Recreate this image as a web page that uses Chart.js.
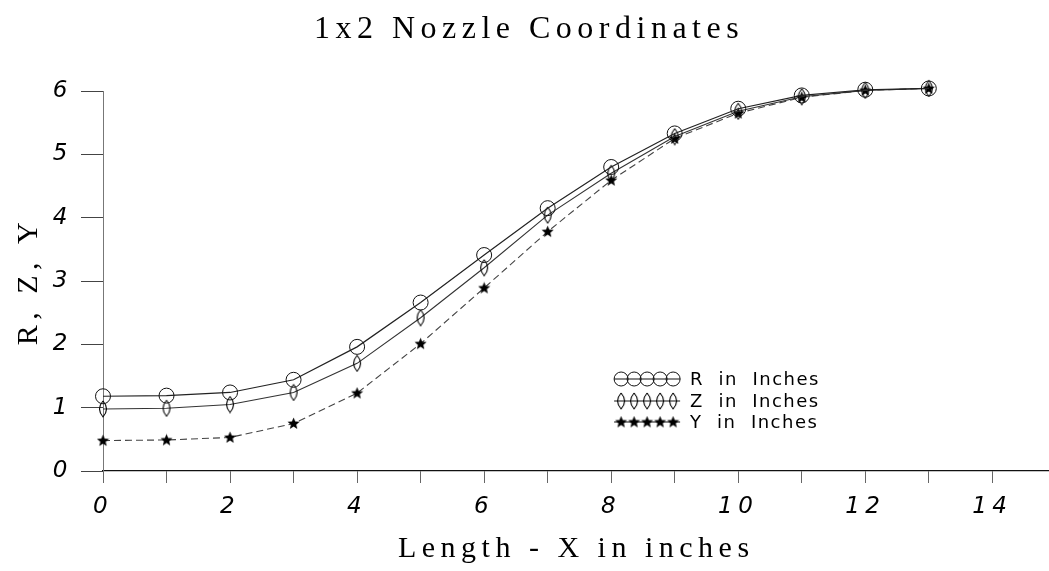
<!DOCTYPE html>
<html>
<head>
<meta charset="utf-8">
<script src="https://cdn.jsdelivr.net/npm/chart.js@4"></script>
<style>
  html, body { margin: 0; padding: 0; background: #fff; overflow: hidden; }
  /* canvas is a little wider than the frame so the x axis runs off the right edge */
  #wrap { width: 1049px; height: 571px; overflow: hidden; }
</style>
</head>
<body>
<div id="wrap"><canvas id="chart" width="1058" height="571"></canvas></div>
<script>
// nozzle profile, station x in inches
let lengthX = [0, 1, 2, 3, 4, 5, 6, 7, 8, 9, 10, 11, 12, 13]
let rInches = [1.18, 1.19, 1.24, 1.44, 1.96, 2.66, 3.41, 4.15, 4.80, 5.33, 5.72, 5.93, 6.02, 6.04]
let zInches = [0.98, 0.99, 1.05, 1.24, 1.70, 2.42, 3.21, 4.04, 4.70, 5.28, 5.68, 5.91, 6.01, 6.04]
let yInches = [0.48, 0.49, 0.53, 0.75, 1.23, 2.01, 2.89, 3.78, 4.59, 5.25, 5.65, 5.90, 6.01, 6.04]

let seriesNames = ['R in Inches', 'Z in Inches', 'Y in Inches']
let xTicks = [0, 2, 4, 6, 8, 10, 12, 14]
let xMinorTicks = [1, 3, 5, 7, 9, 11, 13]
let yTicks = [0, 1, 2, 3, 4, 5, 6]


function toPoints(ys) {
    return lengthX.map((x, i) => ({ x: x, y: ys[i] }))
}

// lens shaped marker for Z
function makeLens() {
    let c = document.createElement('canvas')
    c.width = 14; c.height = 18
    let g = c.getContext('2d')
    g.strokeStyle = '#000'
    g.lineWidth = 1.1
    g.beginPath()
    g.moveTo(7, 1)
    g.quadraticCurveTo(14, 9, 7, 17)
    g.quadraticCurveTo(0, 9, 7, 1)
    g.stroke()
    return c
}

// filled five point star for Y
function makeStar() {
    let c = document.createElement('canvas')
    c.width = 13; c.height = 13
    let g = c.getContext('2d')
    g.fillStyle = '#000'
    g.beginPath()
    for (let i = 0; i < 10; i++) {
        let r = i % 2 === 0 ? 6.3 : 2.8
        let a = -Math.PI / 2 + i * Math.PI / 5
        let px = 6.5 + r * Math.cos(a), py = 6.8 + r * Math.sin(a)
        if (i === 0) g.moveTo(px, py); else g.lineTo(px, py)
    }
    g.closePath()
    g.fill()
    return c
}

const lensImg = makeLens()
const starImg = makeStar()

const data = {
    datasets: [{
        label: seriesNames[0],
        data: toPoints(rInches),
        borderColor: '#222',
        borderWidth: 1.2,
        pointStyle: 'circle',
        pointRadius: 7.5,
        pointBorderColor: '#111',
        pointBorderWidth: 1,
        pointBackgroundColor: 'rgba(0,0,0,0)',
        clip: false
    }, {
        label: seriesNames[1],
        data: toPoints(zInches),
        borderColor: '#333',
        borderWidth: 1.1,
        pointStyle: lensImg,
        clip: false
    }, {
        label: seriesNames[2],
        data: toPoints(yInches),
        borderColor: '#444',
        borderWidth: 1.1,
        borderDash: [7, 4],
        pointStyle: starImg,
        clip: false
    }]
}

const serif = "'Liberation Serif', 'DejaVu Serif', serif"
const tickFont = { family: "'DejaVu Sans', sans-serif", size: 23, style: 'italic', weight: 200 }

// wide letter spacing for the text drawn by the chart
const spacing = {
    id: 'spacing',
    beforeDraw(chart) {
        chart.ctx.letterSpacing = '5.5px'
    }
}

// legend drawn inside the plot, markers strung along a line
const inlineLegend = {
    id: 'inlineLegend',
    afterDraw(chart) {
        const ctx = chart.ctx
        const area = chart.chartArea
        const x0 = area.left + 0.54 * (area.right - area.left)
        const rows = [379, 401, 422]
        ctx.save()
        ctx.letterSpacing = '1.5px'
        chart.data.datasets.forEach((ds, i) => {
            const y = rows[i]
            ctx.strokeStyle = '#111'
            ctx.lineWidth = 1.2
            ctx.setLineDash([])
            ctx.beginPath()
            ctx.moveTo(x0, y)
            ctx.lineTo(x0 + 66, y)
            ctx.stroke()
            for (let k = 0; k < 5; k++) {
                const mx = x0 + 7 + k * 13
                if (i === 0) {
                    ctx.beginPath()
                    ctx.arc(mx, y, 7, 0, Math.PI * 2)
                    ctx.lineWidth = 1
                    ctx.stroke()
                } else {
                    const img = i === 1 ? lensImg : starImg
                    ctx.drawImage(img, mx - img.width / 2, y - img.height / 2)
                }
            }
            ctx.fillStyle = '#000'
            ctx.font = "18px 'DejaVu Sans', sans-serif"
            ctx.textBaseline = 'middle'
            ctx.textAlign = 'left'
            ctx.fillText(ds.label.replace(/ /g, '  '), x0 + 76, y + 1)
        })
        ctx.restore()
    }
}

const options = {
    responsive: false,
    animation: false,
    layout: { padding: 0 },
    plugins: {
        legend: { display: false },
        tooltip: { enabled: false },
        title: {
            display: true,
            text: '1x2 Nozzle Coordinates',
            color: '#000',
            font: { family: serif, size: 32, weight: 'normal', lineHeight: 1.2 },
            padding: { top: 10, bottom: 42.6 }
        }
    },
    scales: {
        x: {
            type: 'linear',
            min: 0,
            max: 14.9,
            afterFit: (s) => {
                s.height = 100
                s.paddingLeft = 0
                s.paddingRight = 0
            },
            afterBuildTicks: (s) => {
                s.ticks = xTicks.concat(xMinorTicks).sort((a, b) => a - b).map(v => ({ value: v }))
            },
            ticks: {
                autoSkip: false,
                maxRotation: 0,
                color: '#000',
                font: tickFont,
                padding: 10,
                callback: (v) => xTicks.includes(v) ? String(v) : ''
            },
            grid: {
                drawOnChartArea: false,
                tickLength: 12,
                color: '#666'
            },
            border: { color: '#111', width: 1.3 },
            title: {
                display: true,
                text: 'Length - X in inches',
                color: '#000',
                font: { family: serif, size: 30, lineHeight: 1.2 },
                padding: { top: 0, bottom: 4 }
            }
        },
        y: {
            min: 0,
            max: 6,
            afterFit: (s) => {
                s.width = 103
                s.paddingTop = 0
                s.paddingBottom = 0
            },
            afterBuildTicks: (s) => { s.ticks = yTicks.map(v => ({ value: v })) },
            ticks: {
                color: '#000',
                font: tickFont,
                padding: 8
            },
            grid: {
                drawOnChartArea: false,
                tickLength: 22,
                color: '#444'
            },
            border: { color: '#777', width: 1, dash: [4, 3] },
            title: {
                display: true,
                text: 'R, Z, Y',
                color: '#000',
                font: { family: serif, size: 30, lineHeight: 1.2 },
                padding: { top: 11, bottom: 0 }
            }
        }
    }
}

const ctx = document.getElementById('chart').getContext('2d')
const nozzleChart = new Chart(ctx, {
    type: 'line',
    data: data,
    options: options,
    plugins: [spacing, inlineLegend]
})
</script>
</body>
</html>
